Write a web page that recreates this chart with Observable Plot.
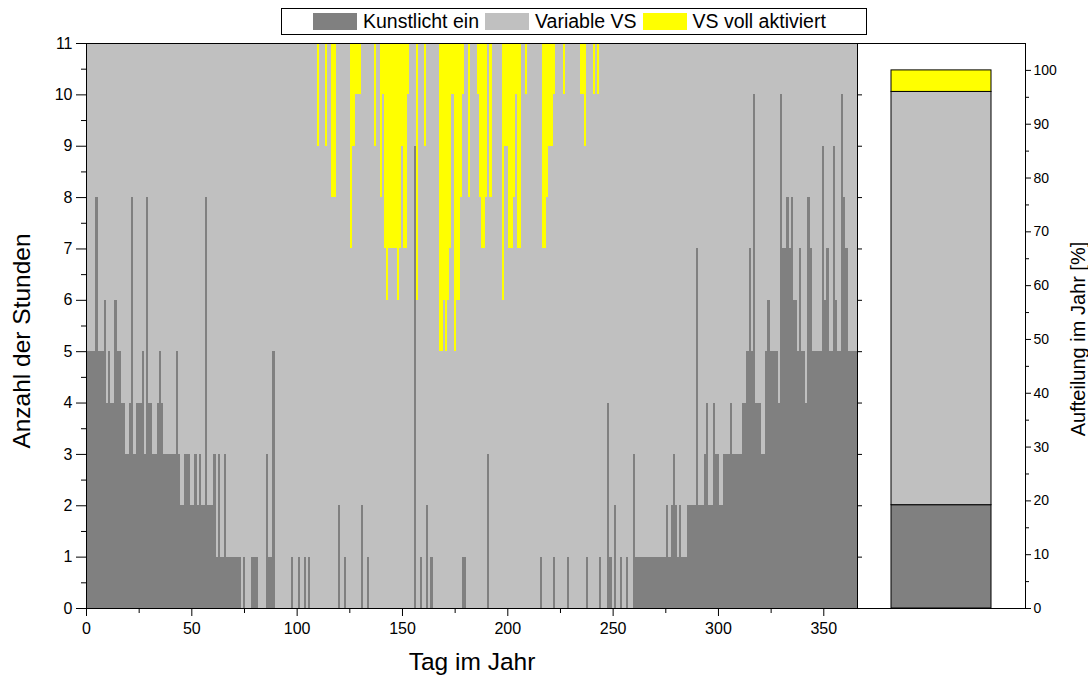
<!DOCTYPE html>
<html><head><meta charset="utf-8">
<script src="https://cdn.jsdelivr.net/npm/d3@7"></script>
<script src="https://cdn.jsdelivr.net/npm/@observablehq/plot@0.6"></script>
<style>
body{margin:0;background:#fff;font-family:"Liberation Sans",Arial,sans-serif;}
#wrap{position:relative;width:1088px;height:684px;overflow:hidden;background:#fff;}
#legend{position:absolute;left:281px;top:8px;width:586px;height:27px;box-sizing:border-box;border:1px solid #000;display:flex;align-items:center;font-size:19.5px;color:#000;padding-left:31px;white-space:nowrap;z-index:2;background:#fff;}
.sw{width:44px;height:17px;margin-right:6px;flex:none;}
.it{display:flex;align-items:center;margin-right:6px;}
#left{position:absolute;left:0;top:0;width:862px;}
#right{position:absolute;left:855px;top:0;width:233px;}
</style></head><body>
<div id="wrap"><div id="legend"></div><div id="left"></div><div id="right"></div></div>
<script>
// ---- data ----
const seriesNames = ["Kunstlicht ein", "Variable VS", "VS voll aktiviert"];
const seriesColors = ["#808080", "#c0c0c0", "#ffff00"];
const hoursPerDay = 11;
// hours of artificial light per day, day 0..366
const kunstlicht = [
  5,5,5,5,5,8,5,5,5,6,  4,5,4,4,6,5,5,4,4,3,  3,4,8,3,4,4,4,5,3,8,
  4,4,3,3,4,5,4,3,3,3,  3,3,3,5,3,2,2,3,3,3,  2,2,3,2,3,2,2,8,2,2,
  2,3,1,3,1,1,3,1,1,1,  1,1,1,1,0,1,0,0,0,1,  1,1,0,0,0,0,3,1,1,5,
  0,0,0,0,0,0,0,0,1,0,  0,1,0,0,1,0,1,0,0,0,  0,0,0,0,0,0,0,0,0,0,
  2,0,0,1,0,0,0,0,0,0,  0,2,0,0,1,0,0,0,0,0,  0,0,0,0,0,0,0,0,0,0,
  0,0,0,0,0,0,9,0,0,1,  0,0,2,0,1,0,0,0,0,0,  0,0,0,0,0,0,0,0,0,1,
  1,0,0,0,0,0,0,0,0,0,  0,3,0,0,0,0,0,0,0,0,  0,0,0,0,0,0,0,0,0,0,
  0,0,0,0,0,0,1,0,0,0,  0,0,1,0,0,0,0,0,0,1,  0,0,0,0,0,0,0,0,1,0,
  0,0,0,0,1,0,0,0,4,1,  0,2,0,0,1,0,0,1,0,0,  3,1,1,1,1,1,1,1,1,1,
  1,1,1,1,1,1,2,1,2,3,  2,1,2,1,1,1,2,2,2,2,  7,2,2,2,3,4,2,2,4,3,
  3,2,2,3,3,3,4,3,3,3,  3,3,4,4,5,7,5,10,4,4, 4,3,3,5,6,5,5,5,5,4,
  10,7,7,8,7,8,6,6,5,7, 5,5,4,8,7,5,5,5,5,5,  9,6,7,5,5,9,6,5,5,10,
  8,7,5,5,5,5,5
];
// hours with fully activated sun shading per day, day 0..366
const vollAktiviert = [
  0,0,0,0,0,0,0,0,0,0,  0,0,0,0,0,0,0,0,0,0,  0,0,0,0,0,0,0,0,0,0,
  0,0,0,0,0,0,0,0,0,0,  0,0,0,0,0,0,0,0,0,0,  0,0,0,0,0,0,0,0,0,0,
  0,0,0,0,0,0,0,0,0,0,  0,0,0,0,0,0,0,0,0,0,  0,0,0,0,0,0,0,0,0,0,
  0,0,0,0,0,0,0,0,0,0,  0,0,0,0,0,0,0,0,0,0,  2,0,0,0,2,0,0,3,3,0,
  0,0,0,0,0,0,4,2,1,1,  1,0,0,0,0,0,0,2,0,0,  3,1,4,5,4,4,4,4,5,4,
  2,4,4,1,0,0,0,5,0,0,  0,2,0,0,0,0,0,0,6,6,  5,6,5,4,1,6,5,5,3,1,
  0,0,3,0,0,0,1,3,4,4,  3,0,3,0,0,0,0,0,5,2,  2,4,4,3,1,4,4,0,0,1,
  0,0,0,0,0,0,0,4,4,3,  2,2,1,0,0,0,0,1,0,0,  0,0,0,0,0,1,1,2,0,0,
  0,1,0,1,0,0,0,0,0,0,  0,0,0,0,0,0,0,0,0,0,  0,0,0,0,0,0,0,0,0,0,
  0,0,0,0,0,0,0,0,0,0,  0,0,0,0,0,0,0,0,0,0,  0,0,0,0,0,0,0,0,0,0,
  0,0,0,0,0,0,0,0,0,0,  0,0,0,0,0,0,0,0,0,0,  0,0,0,0,0,0,0,0,0,0,
  0,0,0,0,0,0,0,0,0,0,  0,0,0,0,0,0,0,0,0,0,  0,0,0,0,0,0,0,0,0,0,
  0,0,0,0,0,0,0
];
// yearly split in percent
const jahresAnteil = [19.2, 76.8, 4.0];
const xTicks = [0, 50, 100, 150, 200, 250, 300, 350];
const xMinorTicks = [25, 75, 125, 175, 225, 275, 325];
const yTicks = [0,1,2,3,4,5,6,7,8,9,10,11];
const yMinorTicks = [0.5,1.5,2.5,3.5,4.5,5.5,6.5,7.5,8.5,9.5,10.5];
const pctTicks = [0,10,20,30,40,50,60,70,80,90,100];
const pctMinorTicks = [5,15,25,35,45,55,65,75,85,95];
const xTitle = "Tag im Jahr";
const yTitle = "Anzahl der Stunden";
const rTitle = "Aufteilung im Jahr [%]";

// ---- table ----
const rows = [];
kunstlicht.forEach((k, day) => {
  const v = vollAktiviert[day];
  const top = hoursPerDay - v;
  rows.push({day, series: seriesNames[0], y1: 0, y2: k});
  rows.push({day, series: seriesNames[1], y1: k, y2: top});
  rows.push({day, series: seriesNames[2], y1: top, y2: hoursPerDay});
});
const bars = rows.filter(d => d.y2 > d.y1);
const shareRows = jahresAnteil.map((p, i) => ({panel: "Jahr", series: seriesNames[i], pct: p}));

const font = "Liberation Sans, Arial, sans-serif";
const blank = () => "";
const intFmt = d3.format("d");

// ---- legend ----
const lg = document.getElementById("legend");
seriesNames.forEach((n, i) => {
  const it = document.createElement("div"); it.className = "it";
  const sw = document.createElement("div"); sw.className = "sw"; sw.style.background = seriesColors[i];
  const tx = document.createElement("span"); tx.textContent = n;
  it.append(sw, tx); lg.append(it);
});

// ---- left panel ----
const left = Plot.plot({
  width: 862, height: 684,
  marginLeft: 86, marginRight: 5, marginTop: 43, marginBottom: 76,
  style: {fontFamily: font, fontSize: "16px", color: "#000", background: "transparent", overflow: "visible"},
  x: {domain: [0, 366]},
  y: {domain: [0, 11]},
  color: {domain: seriesNames, range: seriesColors},
  marks: [
    Plot.rectY(bars, {x1: d => d.day - 0.5, x2: d => d.day + 0.5, y1: "y1", y2: "y2", fill: "series", clip: true, shapeRendering: "crispEdges"}),
    Plot.frame({stroke: "#000", strokeWidth: 1}),
    Plot.axisX(xTicks, {tickSize: 8, tickPadding: 6, fontSize: 16, tickFormat: intFmt, label: null, stroke: "#000"}),
    Plot.axisX(xMinorTicks, {tickSize: 5, tickFormat: blank, label: null, stroke: "#000"}),
    Plot.axisY(yTicks, {tickSize: 10, tickPadding: 4, fontSize: 16, tickFormat: intFmt, label: null, stroke: "#000"}),
    Plot.axisY(yMinorTicks, {tickSize: 5, tickFormat: blank, label: null, stroke: "#000"}),
    Plot.axisY(yTicks, {anchor: "right", tickSize: 4, tickFormat: blank, label: null, stroke: "#000"}),
    Plot.text([xTitle], {frameAnchor: "bottom", dy: 61, textAnchor: "middle", text: d => d, fontSize: 24.5, fill: "#000"}),
    Plot.text([yTitle], {frameAnchor: "left", dx: -64, dy: 15, textAnchor: "middle", rotate: -90, text: d => d, fontSize: 24.5, fill: "#000"})
  ]
});
document.getElementById("left").append(left);

// ---- right panel ----
const right = Plot.plot({
  width: 233, height: 684,
  marginLeft: 2, marginRight: 63, marginTop: 43, marginBottom: 76,
  style: {fontFamily: font, fontSize: "14px", color: "#000", background: "transparent", overflow: "visible"},
  x: {domain: ["Jahr"], paddingInner: 0, paddingOuter: 1/3, axis: null},
  y: {domain: [0, 105]},
  color: {domain: seriesNames, range: seriesColors},
  marks: [
    Plot.barY(shareRows, {x: "panel", y: "pct", fill: "series", stroke: "#000", strokeWidth: 1}),
    Plot.frame({stroke: "#000", strokeWidth: 1}),
    Plot.axisY(pctTicks, {anchor: "right", tickSize: 5, tickPadding: 3, fontSize: 14, tickFormat: intFmt, label: null, stroke: "#000"}),
    Plot.axisY(pctMinorTicks, {anchor: "right", tickSize: 3, tickFormat: blank, label: null, stroke: "#000"}),
    Plot.text([rTitle], {frameAnchor: "right", dx: 53, dy: 13, textAnchor: "middle", rotate: -90, text: d => d, fontSize: 20, fill: "#000"})
  ]
});
document.getElementById("right").append(right);
</script>
</body></html>
